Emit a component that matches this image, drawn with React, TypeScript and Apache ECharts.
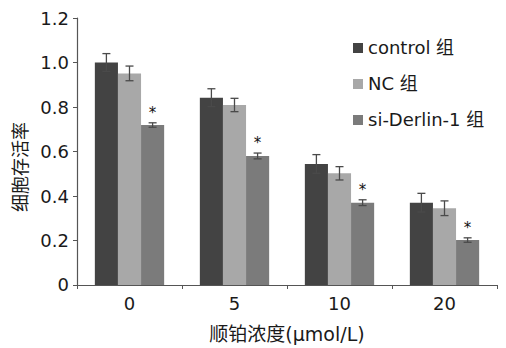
import React, { useEffect, useRef } from 'react';
import * as echarts from 'echarts';

const categories = ['0', '5', '10', '20'];
const seriesNames = ['control 组', 'NC 组', 'si-Derlin-1 组'];
const seriesColors = ['#434343', '#a8a8a8', '#7b7b7b'];
const controlValues = [1.0, 0.842, 0.544, 0.37];
const controlErrors = [0.04, 0.04, 0.042, 0.042];
const ncValues = [0.951, 0.809, 0.502, 0.345];
const ncErrors = [0.033, 0.03, 0.03, 0.033];
const siValues = [0.719, 0.58, 0.37, 0.202];
const siErrors = [0.01, 0.013, 0.013, 0.01];
const siSignificant = [1, 1, 1, 1];
const yMin = 0;
const yMax = 1.2;
const yInterval = 0.2;
const xTitle = '顺铂浓度(μmol/L)';
const yTitle = '细胞存活率';

const FONT = '"DejaVu Sans", "Noto Sans CJK SC", sans-serif';
const CAT_GAP = 0.34;

export default function App() {
  const ref = useRef<HTMLDivElement>(null);
  useEffect(() => {
    if (!ref.current) return;
    const chart = echarts.init(ref.current, undefined, { renderer: 'svg' });
    const allValues = [controlValues, ncValues, siValues];
    const allErrors = [controlErrors, ncErrors, siErrors];
    const errData: number[][] = [];
    allValues.forEach((vals, k) => {
      vals.forEach((v, i) => {
        errData.push([i, v, allErrors[k][i], k, k === 2 ? siSignificant[i] : 0]);
      });
    });
    chart.setOption({
      animation: false,
      backgroundColor: '#ffffff',
      textStyle: { fontFamily: FONT },
      grid: { left: 77, right: 9, top: 18, bottom: 63, containLabel: false },
      legend: {
        data: seriesNames,
        orient: 'vertical',
        left: 348,
        top: 34,
        itemWidth: 10,
        itemHeight: 10,
        itemGap: 18,
        icon: 'rect',
        textStyle: { fontFamily: FONT, fontSize: 18, color: '#1a1a1a', padding: [0, 0, 0, 0] },
        selectedMode: false,
      },
      xAxis: {
        type: 'category',
        data: categories,
        name: xTitle,
        nameLocation: 'middle',
        nameGap: 39,
        nameTextStyle: { fontFamily: FONT, fontSize: 19, color: '#1a1a1a' },
        axisLine: { lineStyle: { color: '#555555', width: 1.2 } },
        axisTick: { show: true, alignWithLabel: false, length: 4, lineStyle: { color: '#555555' } },
        axisLabel: { fontFamily: FONT, fontSize: 18, color: '#1a1a1a', margin: 10 },
      },
      yAxis: {
        type: 'value',
        min: yMin,
        max: yMax,
        interval: yInterval,
        axisLine: { show: true, lineStyle: { color: '#555555', width: 1.2 } },
        axisTick: { show: true, length: 4, lineStyle: { color: '#555555' } },
        splitLine: { show: false },
        axisLabel: {
          fontFamily: FONT,
          fontSize: 18,
          color: '#1a1a1a',
          margin: 8,
          formatter: (v: number) => (v === 0 ? '0' : v.toFixed(1)),
        },
      },
      graphic: [
        {
          type: 'text',
          x: 20,
          y: 167,
          rotation: Math.PI / 2,
          style: {
            text: yTitle,
            fontFamily: FONT,
            fontSize: 18,
            fill: '#1a1a1a',
            align: 'center',
            verticalAlign: 'middle',
          },
        },
      ],
      series: [
        ...allValues.map((vals, k) => ({
          type: 'bar',
          name: seriesNames[k],
          data: vals,
          barGap: '0%',
          barCategoryGap: CAT_GAP * 100 + '%',
          itemStyle: { color: seriesColors[k] },
        })),
        {
          type: 'custom',
          name: 'errors',
          data: errData,
          z: 10,
          renderItem: (params: any, api: any) => {
            const i = api.value(0);
            const v = api.value(1);
            const e = api.value(2);
            const k = api.value(3);
            const sig = api.value(4);
            const band = api.size([1, 0])[0];
            const barW = (band * (1 - CAT_GAP)) / 3;
            const cx = api.coord([i, 0])[0] + (k - 1) * barW;
            const yTop = api.coord([i, v + e])[1];
            const yBot = api.coord([i, v - e])[1];
            const cap = 4;
            const style = { stroke: '#4a4a4a', lineWidth: 1.3 };
            const children: any[] = [
              { type: 'line', shape: { x1: cx, y1: yTop, x2: cx, y2: yBot }, style },
              { type: 'line', shape: { x1: cx - cap, y1: yTop, x2: cx + cap, y2: yTop }, style },
              { type: 'line', shape: { x1: cx - cap, y1: yBot, x2: cx + cap, y2: yBot }, style },
            ];
            if (sig) {
              children.push({
                type: 'text',
                x: cx,
                y: yTop - 10,
                style: {
                  text: '*',
                  fontFamily: FONT,
                  fontSize: 15,
                  fill: '#111111',
                  align: 'center',
                  verticalAlign: 'middle',
                },
              });
            }
            return { type: 'group', children };
          },
        },
      ],
    });
    return () => chart.dispose();
  }, []);
  return <div ref={ref} style={{ width: 506, height: 348, position: 'absolute', left: 0, top: 0 }} />;
}
